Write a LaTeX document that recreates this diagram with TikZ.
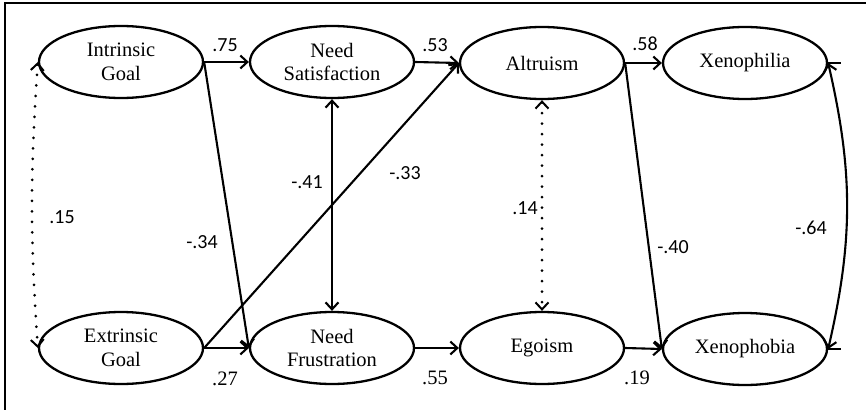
\documentclass[tikz,border=0pt]{standalone}
\usepackage{fontspec}
\setmainfont{Liberation Serif}
\newfontfamily\labfont{Carlito}
\usetikzlibrary{shapes.geometric,arrows.meta}

\tikzset{latent/.style={draw,ellipse,line width=2.3pt,minimum width=164pt,minimum height=72pt,inner sep=0pt,align=center,font=\fontsize{20.5}{23.5}\selectfont},
coef/.style={inner sep=0pt,font=\labfont\fontsize{20}{22}\selectfont},
coefserif/.style={inner sep=0pt,font=\fontsize{20.5}{22}\selectfont},
arr/.style={draw,line width=2.1pt,-{Straight Barb[length=7pt,width=13pt]}},
twoarr/.style={draw,line width=2.1pt,{Straight Barb[length=7pt,width=13pt]}-{Straight Barb[length=7pt,width=13pt]}},
dots/.style={draw,line width=3pt,dash pattern=on 0pt off 10.5pt,line cap=round,{Straight Barb[length=7pt,width=13pt,line width=2pt]}-{Straight Barb[length=7pt,width=13pt,line width=2pt]}}}

\begin{document}
\begin{tikzpicture}[x=1pt,y=-1pt]
\useasboundingbox (0,0) rectangle (866,409);
\fill[white] (0,0) rectangle (866,409);
\draw[line width=1.3pt] (870,3) -- (5,3) -- (5,412);
\path
(121,62) node[latent](ig){Intrinsic\\Goal}
(121,348) node[latent](eg){Extrinsic\\Goal}
(332,62) node[latent](ns){Need\\Satisfaction}
(332,348) node[latent](nf){Need\\Frustration}
(542,63) node[latent](al){Altruism}
(542,348) node[latent](eo){Egoism}
(745,63) node[latent](xp){Xenophilia}
(745,349) node[latent](xb){Xenophobia};
\path[arr] (ig.east)--(ns.west);
\path[arr] (ig.east)--(nf.west);
\path[arr] (eg.east)--(nf.west);
\path[arr] (eg.east)--(al.west);
\path[arr] (ns.east)--(al.west);
\path[arr] (nf.east)--(eo.west);
\path[arr] (al.east)--(xp.west);
\path[arr] (al.east)--(xb.west);
\path[arr] (eo.east)--(xb.west);
\path[twoarr] (ns.south)--(nf.north);
\path[twoarr] (xp.east) to[bend left=13] (xb.east);
\path[draw,line width=2.1pt] (xp.east)--++(13,0);
\path[draw,line width=2.1pt] (xb.east)--++(13,0);
\path[dots] (ig.west) to[bend right=4] (eg.west);
\path[dots] (al.south)--(eo.north);
\path
(225,45) node[coef](c1){.75}
(435,45) node[coef](c2){.53}
(645,44) node[coef](c3){.58}
(225,379) node[coefserif](c4){.27}
(435,378) node[coefserif](c5){.55}
(637,378) node[coefserif](c6){.19}
(202,242) node[coef](c7){-.34}
(307,182) node[coef](c8){-.41}
(405,173) node[coef](c9){-.33}
(62,217) node[coef](c10){.15}
(525,208) node[coef](c11){.14}
(673,247) node[coef](c12){-.40}
(811,228) node[coef](c13){-.64};
\end{tikzpicture}
\end{document}
